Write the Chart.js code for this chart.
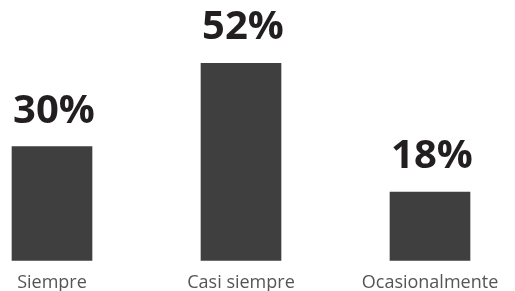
<!DOCTYPE html>
<html>
<head>
<meta charset="utf-8">
<script src="https://cdn.jsdelivr.net/npm/chart.js@4"></script>
<style>
  html, body { margin: 0; padding: 0; background: #fff; }
  #wrap { width: 515px; height: 291px; }
</style>
</head>
<body>
<div id="wrap"><canvas id="myChart"></canvas></div>
<script>
var categories = ["Siempre", "Casi siempre", "Ocasionalmente"];
var values = [30, 52, 18];
var barColor = "#3f3f3f";

// draws the percentage above each bar
const valueLabels = {
  id: "valueLabels",
  afterDatasetsDraw: function (chart) {
    const ctx = chart.ctx;
    const meta = chart.getDatasetMeta(0);
    ctx.save();
    ctx.font = "bold 40px 'Open Sans'";
    ctx.fillStyle = "#231f20";
    ctx.textAlign = "center";
    ctx.textBaseline = "alphabetic";
    meta.data.forEach(function (bar, i) {
      ctx.fillText(values[i] + "%", bar.x + 2, bar.y - 24);
    });
    ctx.restore();
  },
};

const ctx = document.getElementById("myChart").getContext("2d");

const myChart = new Chart(ctx, {
  type: "bar",
  data: {
    labels: categories,
    datasets: [
      {
        data: values,
        backgroundColor: barColor,
        barThickness: 80,
        clip: false,
      },
    ],
  },
  options: {
    responsive: true,
    maintainAspectRatio: false,
    animation: false,
    layout: {
      padding: { left: 52, right: 85, top: 0, bottom: -14 },
    },
    plugins: {
      legend: { display: false },
      tooltip: { enabled: false },
    },
    scales: {
      x: {
        offset: false,
        grid: { display: false, drawTicks: false },
        border: { display: false },
        ticks: {
          color: "#555",
          font: { family: "'Open Sans'", size: 18 },
          padding: 11.5,
          maxRotation: 0,
        },
      },
      y: {
        display: false,
        min: 0,
        max: 68.7,
      },
    },
  },
  plugins: [valueLabels],
});
</script>
</body>
</html>
